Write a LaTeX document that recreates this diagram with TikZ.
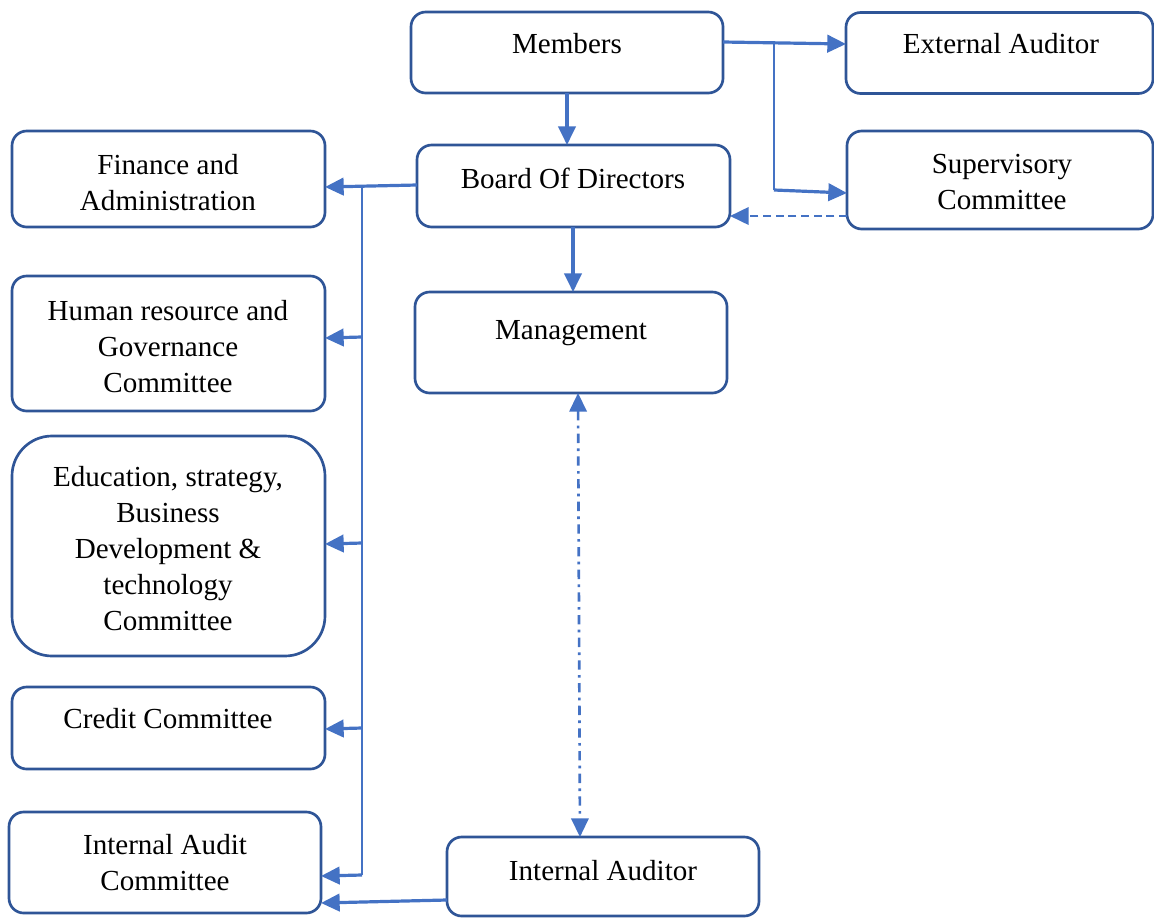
\documentclass[tikz,border=0pt]{standalone}
\usepackage{fontspec}
\setmainfont{Liberation Serif}
\usetikzlibrary{arrows.meta}
\definecolor{boxc}{HTML}{2F5597}
\definecolor{linec}{HTML}{4472C4}
\begin{document}
\begin{tikzpicture}[x=0.75pt,y=-0.75pt,
  box/.style={draw=boxc, line width=2pt, rounded corners=11pt, inner sep=0pt, outer sep=0pt},
  sz/.style 2 args={minimum width=#1*0.75pt, minimum height=#2*0.75pt},
  lbl/.style={font=\fontsize{21.8}{27}\selectfont, align=center, inner sep=0pt},
  conn/.style={draw=linec, line width=2.4pt, -{Triangle[length=14pt,width=13pt]}},
  thinln/.style={draw=linec, line width=1pt}]
\useasboundingbox (0,0) rectangle (1154,918);

% boxes
\node[box, sz={312}{81}]  (members) at (567,52.5) {};
\node[box, sz={307}{81}]  (extaud)  at (999.5,53) {};
\node[box, sz={313}{96}]  (finance) at (168.5,179) {};
\node[box, sz={313}{82}]  (board)   at (573.5,186) {};
\node[box, sz={306}{98}]  (superv)  at (1000,180) {};
\node[box, sz={312}{101}] (mgmt)    at (571,342.5) {};
\node[box, sz={313}{135}] (human)   at (168.5,343.5) {};
\node[box, sz={313}{220}, rounded corners=30pt] (educ) at (168.5,546) {};
\node[box, sz={313}{82}]  (credit)  at (168.5,728) {};
\node[box, sz={312}{101}] (iac)     at (165,862.5) {};
\node[box, sz={312}{79}]  (iaud)    at (603,876.5) {};

% labels
\node[lbl] (tmembers) at (567,44) {Members};
\node[lbl] (textaud)  at (1001,44) {External Auditor};
\node[lbl] (tfinance) at (168,182.5) {Finance and\\Administration};
\node[lbl] (tboard)   at (573,178) {Board Of Directors};
\node[lbl] (tsuperv)  at (1002,182.5) {Supervisory\\Committee};
\node[lbl] (tmgmt)    at (571,333) {Management};
\node[lbl] (thuman)   at (168,347) {Human resource and\\Governance\\Committee};
\node[lbl] (teduc)    at (168,548.5) {Education, strategy,\\Business\\Development \&\\technology\\Committee};
\node[lbl] (tcredit)  at (168,719) {Credit Committee};
\node[lbl] (tiac)     at (165,863) {Internal Audit\\Committee};
\node[lbl] (tiaud)    at (603,871) {Internal Auditor};

% junction coordinates
\coordinate (ja) at (774,42);
\coordinate (jb) at (774,190);
\coordinate (jc) at (362,186);
\coordinate (jd) at (362,875);

% connectors
\draw[conn] (members.south) -- (members.south |- board.north);
\draw[conn] (members.east |- 0,42) -- (extaud.west |- 0,44);
\draw[thinln] (ja) -- (jb);
\draw[conn] (jb) -- (superv.west |- 0,193);
\draw[conn, line width=2pt, dash pattern=on 6pt off 3.5pt] (superv.west |- 0,216) -- (board.east |- 0,216);
\draw[conn] (board.west |- 0,185) -- (finance.east |- 0,187);
\draw[thinln] (jc) -- (jd);
\draw[conn] (362,337) -- (human.east |- 0,338);
\draw[conn] (362,543) -- (educ.east |- 0,544);
\draw[conn] (362,728) -- (credit.east |- 0,729);
\draw[conn] (jd) -- (iac.east |- 0,876);
\draw[conn] (board.south -| 573,0) -- (mgmt.north -| 573,0);
\draw[draw=linec, line width=2pt, {Triangle[length=14pt,width=13pt]}-{Triangle[length=14pt,width=13pt]},
      dash pattern=on 7pt off 4pt on 2pt off 4pt] (mgmt.south -| 578,0) -- (iaud.north -| 580,0);
\draw[conn] (iaud.west |- 0,900) -- (iac.east |- 0,903);
\end{tikzpicture}
\end{document}
